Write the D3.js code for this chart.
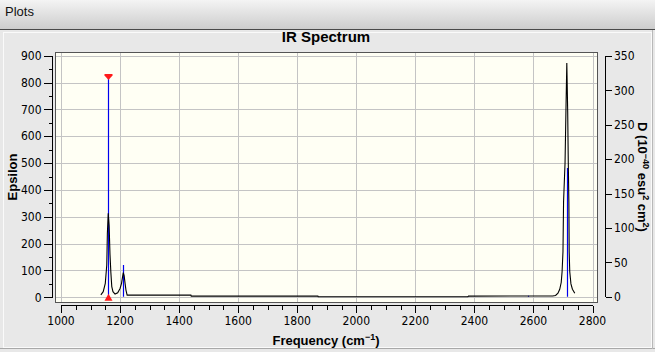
<!DOCTYPE html>
<html><head><meta charset="utf-8">
<script src="https://cdn.jsdelivr.net/npm/d3@7"></script>
<style>
html,body{margin:0;padding:0;background:#e8e8e8;}
svg{display:block;}
</style></head>
<body>
<script>
// ---- data ----
const chartTitle = "IR Spectrum";
const xTicks = [1000,1200,1400,1600,1800,2000,2200,2400,2600,2800];
const yLeftTicks = [0,100,200,300,400,500,600,700,800,900];
const yRightTicks = [0,50,100,150,200,250,300,350];
// broadened spectrum (frequency cm-1, epsilon)
const curveFreq = [1135,1143,1150,1155,1157,1160,1163,1166,1169,1172,1176,1183,1192,1200,1205,1209,1211,1214,1217,1220,1224,1230,1440,1441,1870,1871,2378,2380,2665,2675,2683,2689,2694,2697,2700,2702,2707,2710,2713,2716,2718,2720,2721,2723,2727,2732,2737,2740];
const curveEps  = [9,21,52,120,238,313,267,158,90,40,21,12,17,33,52,80,92,80,52,27,8,8,8,4.5,4.5,2.2,2.2,4.5,5,7,15,30,55,95,170,356,500,691,873,691,500,356,170,95,50,30,21,15];
// stick spectrum (frequency cm-1, dipole strength D)
const stickFreq = [1160,1211,2580,2713];
const stickD    = [321,46,1.5,187];
const selectedStick = 0;

const W = 655, H = 352;
const svg = d3.select("body").append("svg").attr("width", W).attr("height", H);

// panel chrome
const defs = svg.append("defs");
const g1 = defs.append("linearGradient").attr("id","hdr").attr("x1",0).attr("y1",0).attr("x2",0).attr("y2",1);
g1.append("stop").attr("offset","0%").attr("stop-color","#f4f4f4");
g1.append("stop").attr("offset","100%").attr("stop-color","#cdcdcd");
svg.append("rect").attr("x",0).attr("y",0).attr("width",W).attr("height",29).attr("fill","url(#hdr)");
svg.append("line").attr("x1",0).attr("x2",W).attr("y1",29.5).attr("y2",29.5).attr("stroke","#4a4a4a");
svg.append("rect").attr("x",0).attr("y",30).attr("width",W).attr("height",H-30).attr("fill","#e8e8e8");
svg.append("rect").attr("x",3.5).attr("y",32.5).attr("width",648).attr("height",315).attr("fill","none").attr("stroke","#fafafa");
svg.append("line").attr("x1",0).attr("x2",W).attr("y1",348.5).attr("y2",348.5).attr("stroke","#a8a8a8");
svg.append("line").attr("x1",652.5).attr("x2",652.5).attr("y1",30).attr("y2",349).attr("stroke","#b8b8b8");
svg.append("text").attr("x",5).attr("y",16).attr("font-family","'Liberation Sans',Arial,sans-serif")
  .attr("font-size",13).attr("fill","#111").text("Plots");

// scales
const x = d3.scaleLinear().domain([1000,2800]).range([61,592.5]);
const yE = d3.scaleLinear().domain([0,900]).range([297.3,55.7]);
const yD = d3.scaleLinear().domain([0,350]).range([296.7,56]);

const frame = {x:55, y:51.5, w:542, h:250};
svg.append("rect").attr("x",frame.x+0.5).attr("y",frame.y+0.5).attr("width",frame.w).attr("height",frame.h)
  .attr("fill","#fffff4");

// grid
const grid = svg.append("g").attr("stroke","#c4c4c4").attr("shape-rendering","crispEdges");
grid.selectAll("line.v").data(xTicks).join("line")
  .attr("x1",d=>Math.round(x(d))+0.5).attr("x2",d=>Math.round(x(d))+0.5)
  .attr("y1",frame.y).attr("y2",frame.y+frame.h);
grid.selectAll("line.h").data(yLeftTicks).join("line")
  .attr("y1",d=>Math.round(yE(d))+0.5).attr("y2",d=>Math.round(yE(d))+0.5)
  .attr("x1",frame.x).attr("x2",frame.x+frame.w);

svg.append("clipPath").attr("id","clip").append("rect")
  .attr("x",frame.x+1).attr("y",frame.y+1).attr("width",frame.w-1).attr("height",frame.h-1);
const plot = svg.append("g").attr("clip-path","url(#clip)");

// sticks
plot.selectAll("line.stick").data(stickFreq).join("line")
  .attr("x1",d=>Math.round(x(d))+0.5).attr("x2",d=>Math.round(x(d))+0.5)
  .attr("y1",yD(0)).attr("y2",(d,i)=>yD(stickD[i]))
  .attr("stroke","#0000ee").attr("stroke-width",1.2);

// curve
const pts = curveFreq.map((f,i)=>[f,curveEps[i]]);
plot.append("path").datum(pts)
  .attr("d", d3.line().x(d=>x(d[0])).y(d=>yE(d[1])))
  .attr("fill","none").attr("stroke","#000").attr("stroke-width",1.1);

// selected markers
const sx = Math.round(x(stickFreq[selectedStick]))+0.5;
const sTop = yD(stickD[selectedStick]);
svg.append("path").attr("d",`M${sx-4},${sTop-2} L${sx+4},${sTop-2} L${sx+4},${sTop-0.5} L${sx},${sTop+4} L${sx-4},${sTop-0.5} Z`).attr("fill","#ff1a1a");
const sBot = yE(0)+3.5;
svg.append("path").attr("d",`M${sx-4},${sBot} L${sx+4},${sBot} L${sx},${sBot-7} Z`).attr("fill","#ff1a1a");

// frame
svg.append("rect").attr("x",frame.x+0.5).attr("y",frame.y+0.5).attr("width",frame.w).attr("height",frame.h)
  .attr("fill","none").attr("stroke","#555").attr("shape-rendering","crispEdges");

const tickFont = "'Liberation Sans Narrow','DejaVu Sans Condensed',Arial,sans-serif";
const boldFont = "'Liberation Sans',Arial,sans-serif";

// left axis
const la = svg.append("g").attr("shape-rendering","crispEdges").attr("stroke","#000");
la.append("line").attr("x1",52.5).attr("x2",52.5).attr("y1",yE(900)).attr("y2",yE(0)+0.5);
const yMinor = d3.range(0,901,50);
la.selectAll("line.t").data(yMinor).join("line")
  .attr("x1",d=>d%100===0?44:48.5).attr("x2",52.5)
  .attr("y1",d=>Math.round(yE(d))+0.5).attr("y2",d=>Math.round(yE(d))+0.5);
svg.append("g").selectAll("text").data(yLeftTicks).join("text")
  .attr("x",41.5).attr("y",d=>yE(d)+4.2).attr("text-anchor","end")
  .attr("font-family",tickFont).attr("font-size",12).attr("fill","#000").text(d=>d);

// right axis
const ra = svg.append("g").attr("shape-rendering","crispEdges").attr("stroke","#000");
ra.append("line").attr("x1",605.5).attr("x2",605.5).attr("y1",yD(350)).attr("y2",yD(0)+0.5);
ra.selectAll("line.t").data(yRightTicks).join("line")
  .attr("x1",605.5).attr("x2",611.5)
  .attr("y1",d=>Math.round(yD(d))+0.5).attr("y2",d=>Math.round(yD(d))+0.5);
svg.append("g").selectAll("text").data(yRightTicks).join("text")
  .attr("x",614).attr("y",d=>yD(d)+4.2).attr("text-anchor","start")
  .attr("font-family",tickFont).attr("font-size",12).attr("fill","#000").text(d=>d);

// bottom axis
const ba = svg.append("g").attr("shape-rendering","crispEdges").attr("stroke","#000");
ba.append("line").attr("x1",x(1000)).attr("x2",x(2800)+0.5).attr("y1",305.5).attr("y2",305.5);
const xMinor = d3.range(1000,2801,50);
ba.selectAll("line.t").data(xMinor).join("line")
  .attr("x1",d=>Math.round(x(d))+0.5).attr("x2",d=>Math.round(x(d))+0.5)
  .attr("y1",305.5).attr("y2",d=>d%200===0?312.5:309.5);
svg.append("g").selectAll("text").data(xTicks).join("text")
  .attr("x",d=>x(d)).attr("y",325).attr("text-anchor","middle")
  .attr("font-family",tickFont).attr("font-size",12).attr("fill","#000").text(d=>d);

// titles
svg.append("text").attr("x",326).attr("y",42).attr("text-anchor","middle")
  .attr("font-family",boldFont).attr("font-weight","bold").attr("font-size",15).attr("fill","#000").text(chartTitle);

const xt = svg.append("text").attr("x",326).attr("y",345).attr("text-anchor","middle")
  .attr("font-family",boldFont).attr("font-weight","bold").attr("font-size",13).attr("fill","#000");
xt.append("tspan").text("Frequency (cm");
xt.append("tspan").attr("font-size",9).attr("dy",-5).text("−1");
xt.append("tspan").attr("dy",5).text(")");

svg.append("text").attr("transform","translate(17,177) rotate(-90)").attr("text-anchor","middle")
  .attr("font-family",boldFont).attr("font-weight","bold").attr("font-size",13).attr("fill","#000").text("Epsilon");

const rt = svg.append("text").attr("transform","translate(638,177) rotate(90)").attr("text-anchor","middle")
  .attr("font-family",boldFont).attr("font-weight","bold").attr("font-size",13).attr("fill","#000");
rt.append("tspan").text("D (10");
rt.append("tspan").attr("font-size",9).attr("dy",-5).text("−40");
rt.append("tspan").attr("dy",5).text(" esu");
rt.append("tspan").attr("font-size",9).attr("dy",-5).text("2");
rt.append("tspan").attr("dy",5).text(" cm");
rt.append("tspan").attr("font-size",9).attr("dy",-5).text("2");
rt.append("tspan").attr("dy",5).text(")");
</script>
</body></html>
